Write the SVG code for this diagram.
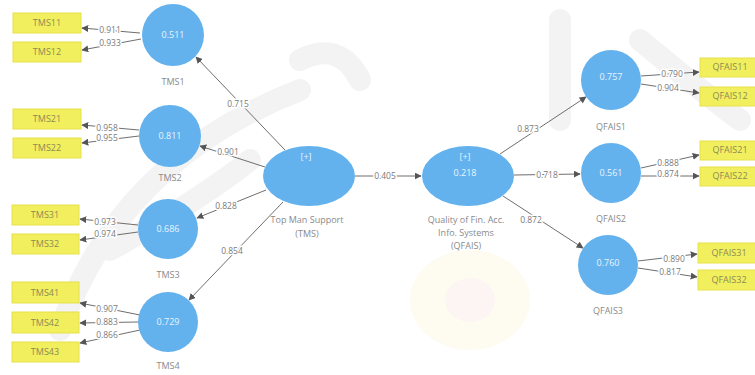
<svg xmlns="http://www.w3.org/2000/svg" width="755" height="375" viewBox="0 0 755 375">
<style>
.lv{fill:#63b2ee;}
.ind{fill:#f2ef5e;stroke:#e6e24a;stroke-width:1;}
.it{font-family:"Open Sans","Liberation Sans",sans-serif;font-size:9px;fill:#8c8a55;text-anchor:middle;}
.ct{font-family:"Open Sans","Liberation Sans",sans-serif;font-size:9px;fill:#eaf4fd;text-anchor:middle;}
.nl{font-family:"Open Sans","Liberation Sans",sans-serif;font-size:9px;fill:#8a8a8a;text-anchor:middle;}
.cn line{stroke:#6e6e6e;stroke-width:1;marker-end:url(#ah);}
.wl{font-family:"Open Sans","Liberation Sans",sans-serif;font-size:8.5px;fill:#7a7a7a;text-anchor:middle;stroke:#ffffff;stroke-width:3px;paint-order:stroke;stroke-linejoin:round;}
.wm{fill:none;stroke:#f3f3f3;stroke-width:22;stroke-linecap:round;}
</style>
<defs>
<marker id="ah" viewBox="0 0 10 10" refX="9" refY="5" markerWidth="7" markerHeight="7" orient="auto" markerUnits="userSpaceOnUse">
<path d="M0,0 L10,5 L0,10 z" fill="#555"/>
</marker>
</defs>
<rect x="0" y="0" width="755" height="375" fill="#ffffff"/>
<g id="watermark">
<path class="wm" d="M60,330 Q120,160 300,90"/>
<path class="wm" d="M110,250 Q200,200 250,160"/>
<path class="wm" d="M640,40 Q700,90 740,120"/>
<path class="wm" d="M560,20 L560,120"/>
<path class="wm" d="M300,60 Q340,40 360,80"/>
<ellipse cx="470" cy="300" rx="60" ry="50" fill="#fefbf1"/>
<ellipse cx="470" cy="300" rx="25" ry="22" fill="#fdf4f4"/>
</g>
<g class="cn" id="connectors">
<line x1="140" y1="33" x2="82" y2="28"/>
<line x1="141" y1="39" x2="82" y2="50"/>
<line x1="139" y1="130" x2="82" y2="125"/>
<line x1="139" y1="136" x2="82" y2="143"/>
<line x1="138" y1="225" x2="80" y2="219"/>
<line x1="138" y1="232" x2="80" y2="240"/>
<line x1="140" y1="315" x2="80" y2="303"/>
<line x1="138" y1="322" x2="80" y2="323"/>
<line x1="140" y1="330" x2="80" y2="343"/>
<line x1="285" y1="150" x2="196" y2="57"/>
<line x1="265" y1="167" x2="200" y2="146"/>
<line x1="266" y1="190" x2="197" y2="218"/>
<line x1="283" y1="202" x2="189" y2="300"/>
<line x1="355" y1="176" x2="421" y2="176"/>
<line x1="500" y1="154" x2="586" y2="97"/>
<line x1="514" y1="175" x2="580" y2="174"/>
<line x1="503" y1="196" x2="583" y2="248"/>
<line x1="641" y1="76" x2="699" y2="72"/>
<line x1="641" y1="84" x2="699" y2="93"/>
<line x1="641" y1="168" x2="699" y2="155"/>
<line x1="641" y1="176" x2="699" y2="176"/>
<line x1="638" y1="261" x2="697" y2="254"/>
<line x1="638" y1="268" x2="697" y2="277"/>
</g>
<g id="weights">
<text class="wl" x="110" y="33">0.911</text>
<text class="wl" x="110" y="46">0.933</text>
<text class="wl" x="107" y="131">0.958</text>
<text class="wl" x="107" y="141">0.955</text>
<text class="wl" x="105" y="225">0.973</text>
<text class="wl" x="105" y="237">0.974</text>
<text class="wl" x="107" y="312">0.907</text>
<text class="wl" x="107" y="325">0.883</text>
<text class="wl" x="107" y="338">0.866</text>
<text class="wl" x="238" y="107">0.715</text>
<text class="wl" x="228" y="155">0.901</text>
<text class="wl" x="226" y="209">0.828</text>
<text class="wl" x="232" y="254">0.854</text>
<text class="wl" x="385" y="179">0.405</text>
<text class="wl" x="528" y="132">0.873</text>
<text class="wl" x="547" y="178">0.718</text>
<text class="wl" x="531" y="223">0.872</text>
<text class="wl" x="672" y="77">0.790</text>
<text class="wl" x="668" y="91">0.904</text>
<text class="wl" x="668" y="166">0.888</text>
<text class="wl" x="668" y="177">0.874</text>
<text class="wl" x="674" y="262">0.890</text>
<text class="wl" x="670" y="275">0.817</text>
</g>
<g id="TMS11"><rect class="ind" x="13" y="13" width="68" height="20"/><text class="it" x="47" y="26">TMS11</text></g>
<g id="TMS12"><rect class="ind" x="13" y="42" width="68" height="20"/><text class="it" x="47" y="55">TMS12</text></g>
<g id="TMS21"><rect class="ind" x="13" y="109" width="68" height="20"/><text class="it" x="47" y="122">TMS21</text></g>
<g id="TMS22"><rect class="ind" x="13" y="138" width="68" height="20"/><text class="it" x="47" y="151">TMS22</text></g>
<g id="TMS31"><rect class="ind" x="12" y="205" width="67" height="20"/><text class="it" x="45" y="218">TMS31</text></g>
<g id="TMS32"><rect class="ind" x="12" y="234" width="67" height="20"/><text class="it" x="45" y="247">TMS32</text></g>
<g id="TMS41"><rect class="ind" x="12" y="282" width="67" height="21"/><text class="it" x="45" y="296">TMS41</text></g>
<g id="TMS42"><rect class="ind" x="12" y="312" width="67" height="21"/><text class="it" x="45" y="326">TMS42</text></g>
<g id="TMS43"><rect class="ind" x="12" y="342" width="67" height="20"/><text class="it" x="45" y="355">TMS43</text></g>
<g id="TMS1"><circle class="lv" cx="173" cy="35" r="31"/><text class="ct" x="173" y="38">0.511</text><text class="nl" x="173" y="85">TMS1</text></g>
<g id="TMS2"><circle class="lv" cx="170" cy="136" r="31"/><text class="ct" x="170" y="139">0.811</text><text class="nl" x="170" y="181">TMS2</text></g>
<g id="TMS3"><circle class="lv" cx="168" cy="229" r="30"/><text class="ct" x="168" y="232">0.686</text><text class="nl" x="168" y="278">TMS3</text></g>
<g id="TMS4"><circle class="lv" cx="168" cy="322" r="30"/><text class="ct" x="168" y="325">0.729</text><text class="nl" x="168" y="369">TMS4</text></g>
<g id="TMS"><ellipse class="lv" cx="309" cy="176" rx="46" ry="30"/><text class="ct" x="306" y="160">[+]</text><text class="nl" x="307" y="223">Top Man Support</text><text class="nl" x="307" y="237">(TMS)</text></g>
<g id="QFAIS"><ellipse class="lv" cx="468" cy="176" rx="46" ry="30"/><text class="ct" x="465" y="160">[+]</text><text class="ct" x="465" y="176">0.218</text><text class="nl" x="466" y="223">Quality of Fin. Acc.</text><text class="nl" x="466" y="236">Info. Systems</text><text class="nl" x="466" y="249">(QFAIS)</text></g>
<g id="QFAIS1"><circle class="lv" cx="611" cy="80" r="30"/><text class="ct" x="611" y="80">0.757</text><text class="nl" x="611" y="130">QFAIS1</text></g>
<g id="QFAIS2"><circle class="lv" cx="611" cy="173" r="30"/><text class="ct" x="611" y="176">0.561</text><text class="nl" x="611" y="222">QFAIS2</text></g>
<g id="QFAIS3"><circle class="lv" cx="608" cy="265" r="30"/><text class="ct" x="608" y="266">0.760</text><text class="nl" x="608" y="314">QFAIS3</text></g>
<g id="QFAIS11"><rect class="ind" x="700" y="58" width="62" height="19"/><text class="it" x="730" y="70">QFAIS11</text></g>
<g id="QFAIS12"><rect class="ind" x="700" y="87" width="62" height="19"/><text class="it" x="730" y="99">QFAIS12</text></g>
<g id="QFAIS21"><rect class="ind" x="700" y="141" width="62" height="19"/><text class="it" x="730" y="153">QFAIS21</text></g>
<g id="QFAIS22"><rect class="ind" x="700" y="167" width="62" height="19"/><text class="it" x="730" y="179">QFAIS22</text></g>
<g id="QFAIS31"><rect class="ind" x="698" y="243" width="64" height="20"/><text class="it" x="729" y="256">QFAIS31</text></g>
<g id="QFAIS32"><rect class="ind" x="698" y="270" width="64" height="20"/><text class="it" x="729" y="283">QFAIS32</text></g>
</svg>
